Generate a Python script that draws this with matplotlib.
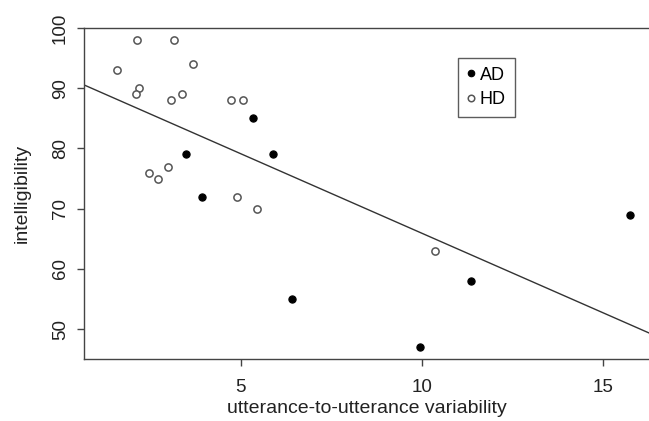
import numpy as np
import matplotlib.pyplot as plt

plt.rcParams['font.family'] = ['Liberation Sans', 'DejaVu Sans']

# data
ad_x = [5.33, 3.49, 5.90, 3.92, 6.42, 15.76, 11.35, 9.95]
ad_y = [85, 79, 79, 72, 55, 69, 58, 47]
hd_x = [1.59, 2.13, 3.17, 3.69, 2.19, 2.10, 3.08, 3.37, 4.74, 5.06,
        2.46, 2.72, 2.98, 4.91, 5.46, 10.37]
hd_y = [93, 98, 98, 94, 90, 89, 88, 89, 88, 88,
        76, 75, 77, 72, 70, 63]

# fitted line (intercept, slope)
fit_a = 92.32
fit_b = -2.638

fig = plt.figure(figsize=(6.49, 4.21), dpi=100)
ax = fig.add_axes([84 / 649, 1 - 359.3 / 421, (649 - 84) / 649, (359.3 - 28) / 421])

xl = (0.67, 16.28)
ax.set_xlim(*xl)
ax.set_ylim(45, 100)

xs = np.array(xl)
ax.plot(xs, fit_a + fit_b * xs, color='#333333', lw=1.0, zorder=1)

ax.plot(ad_x, ad_y, 'o', ms=5.2, mfc='black', mec='black', mew=0.8,
        ls='none', label='AD', zorder=3)
ax.plot(hd_x, hd_y, 'o', ms=5.2, mfc='white', mec='#555555', mew=1.1,
        ls='none', label='HD', zorder=3)

for s in ['left', 'bottom', 'top']:
    ax.spines[s].set_color('#444444')
    ax.spines[s].set_linewidth(1.0)
ax.spines['right'].set_visible(False)

ax.set_xticks([5, 10, 15])
ax.set_yticks([50, 60, 70, 80, 90, 100])
ax.tick_params(axis='both', direction='out', length=5, width=1.0,
               color='#444444', labelsize=13.5, labelcolor='#222222')
ax.tick_params(axis='x', pad=9)
ax.tick_params(axis='y', pad=6)
plt.setp(ax.get_yticklabels(), rotation=90, va='center')

ax.set_xlabel('utterance-to-utterance variability', fontsize=14,
              color='#222222', labelpad=3)
ax.set_ylabel('intelligibility', fontsize=14, color='#222222', labelpad=15)

leg = ax.legend(loc='upper left', bbox_to_anchor=((458 - 84) / 565, 1 - (57.7 - 28) / 331.3),
                frameon=True, fancybox=False, fontsize=13, handlelength=0.4,
                handletextpad=0.3, borderpad=0.5, labelspacing=0.4,
                borderaxespad=0, markerscale=0.9)
leg.get_frame().set_edgecolor('#333333')
leg.get_frame().set_linewidth(1.0)

fig.savefig('out.png', dpi=100)
